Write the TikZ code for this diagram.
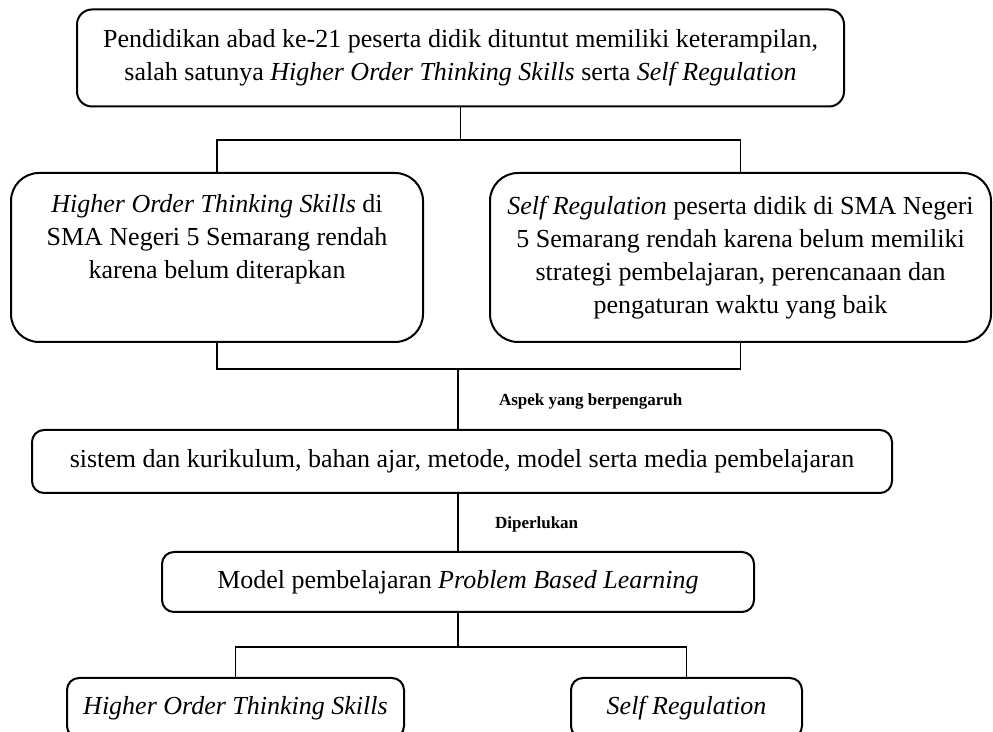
\documentclass[tikz,border=0pt]{standalone}
\usepackage{fontspec}
\setmainfont{Liberation Serif}

\begin{document}
\begin{tikzpicture}[x=0.5pt, y=-0.5pt,
        kotak/.style={draw, line width=1pt, align=center, inner sep=0pt,
            font=\fontsize{13}{16.5}\selectfont},
        garis/.style={line width=0.75pt},
        ket/.style={anchor=west, font=\fontsize{8.5}{10}\selectfont\bfseries}]
        % Frame
        \useasboundingbox (0,0) rectangle (993,732);
        \clip (0,0) rectangle (993,732);

        % Boxes
        \node[kotak, rounded corners=7.5pt, minimum width=383.5pt, minimum height=48.5pt]
            (abad) at (460.5,58)
            {Pendidikan abad ke-21 peserta didik dituntut memiliki keterampilan,\\
             salah satunya \textit{Higher Order Thinking Skills} serta \textit{Self Regulation}};
        \node[kotak, rounded corners=14pt, minimum width=206pt, minimum height=84.5pt]
            (hots) at (217,257.5)
            {\textit{Higher Order Thinking Skills} di\\
             SMA Negeri 5 Semarang rendah\\
             karena belum diterapkan\\ \strut};
        \node[kotak, rounded corners=14pt, minimum width=250.5pt, minimum height=84.5pt]
            (sr) at (740.5,257.5)
            {\textit{Self Regulation} peserta didik di SMA Negeri\\
             5 Semarang rendah karena belum memiliki\\
             strategi pembelajaran, perencanaan dan\\
             pengaturan waktu yang baik};
        \node[kotak, rounded corners=6pt, minimum width=430pt, minimum height=31.5pt]
            (sistem) at (462,461.5)
            {sistem dan kurikulum, bahan ajar, metode, model serta media pembelajaran};
        \node[kotak, rounded corners=6pt, minimum width=296pt, minimum height=30pt]
            (pbl) at (458,582)
            {Model pembelajaran \textit{Problem Based Learning}};
        \node[kotak, rounded corners=6pt, minimum width=168.5pt, minimum height=30pt]
            (hasilhots) at (235.5,708) {\textit{Higher Order Thinking Skills}};
        \node[kotak, rounded corners=6pt, minimum width=115.5pt, minimum height=30pt]
            (hasilsr) at (686.5,708) {\textit{Self Regulation}};

        % Junctions
        \coordinate (j1) at (460.5,140);
        \coordinate (j2) at (458,369);
        \coordinate (j3) at (458,647);

        % Connectors
        \draw[garis] (abad.south) -- (j1);
        \draw[garis] (hots.north) |- (j1) -| (sr.north);
        \draw[garis] (hots.south) |- (j2) -| (sr.south);
        \draw[garis] (j2) -- (j2 |- sistem.north);
        \draw[garis] (pbl.north |- sistem.south) -- (pbl.north);
        \draw[garis] (pbl.south) -- (j3);
        \draw[garis] (hasilhots.north) |- (j3) -| (hasilsr.north);

        % Labels
        \node[ket] (aspek) at (492,401) {Aspek yang berpengaruh};
        \node[ket] (perlu) at (488,524) {Diperlukan};
    \end{tikzpicture}
\end{document}
